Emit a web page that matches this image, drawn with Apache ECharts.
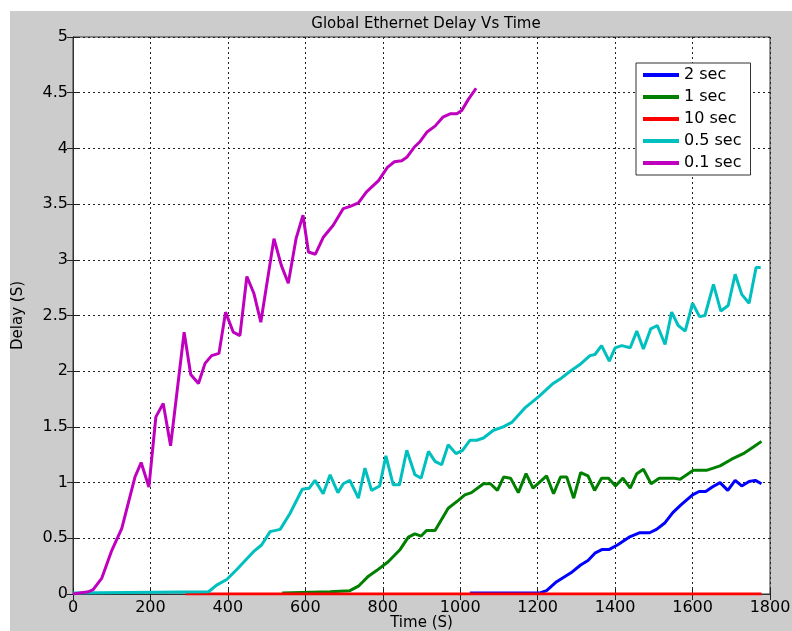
<!DOCTYPE html>
<html>
<head>
<meta charset="utf-8">
<script src="https://cdn.jsdelivr.net/npm/echarts@6/dist/echarts.min.js"></script>
<style>
  html, body { margin: 0; padding: 0; background: #ffffff; }
  #chart { width: 792px; height: 631px; }
</style>
</head>
<body>
<div id="chart"></div>
<script>
// Ethernet delay (s) over simulation time (s) for five sampling periods
const seriesNames = ['2 sec', '1 sec', '10 sec', '0.5 sec', '0.1 sec'];
const seriesColors = ['#0000ff', '#008000', '#ff0000', '#00bfbf', '#bf00bf'];

const time2s = [1025, 1206, 1223, 1249, 1286, 1311, 1330, 1349, 1367, 1385, 1406, 1436, 1464, 1489, 1507, 1529, 1549, 1570, 1600, 1617, 1634, 1651, 1671, 1691, 1710, 1727, 1746, 1762, 1778];
const delay2s = [0.01, 0.01, 0.03, 0.11, 0.19, 0.26, 0.30, 0.37, 0.40, 0.40, 0.44, 0.51, 0.55, 0.55, 0.58, 0.64, 0.73, 0.80, 0.89, 0.92, 0.92, 0.96, 1.00, 0.93, 1.02, 0.97, 1.01, 1.02, 0.99];

const time1s = [540, 664, 715, 737, 763, 784, 814, 845, 866, 883, 899, 913, 935, 969, 995, 1012, 1029, 1060, 1078, 1096, 1112, 1130, 1150, 1170, 1188, 1223, 1241, 1259, 1275, 1293, 1311, 1330, 1347, 1365, 1383, 1401, 1420, 1439, 1456, 1473, 1493, 1514, 1551, 1568, 1585, 1602, 1636, 1671, 1701, 1731, 1757, 1778];
const delay1s = [0.01, 0.02, 0.03, 0.07, 0.16, 0.21, 0.29, 0.40, 0.51, 0.54, 0.52, 0.57, 0.57, 0.77, 0.84, 0.89, 0.91, 0.99, 0.99, 0.93, 1.05, 1.04, 0.91, 1.08, 0.95, 1.06, 0.90, 1.05, 1.05, 0.86, 1.09, 1.06, 0.93, 1.04, 1.04, 0.97, 1.04, 0.95, 1.08, 1.12, 0.99, 1.04, 1.04, 1.03, 1.07, 1.11, 1.11, 1.15, 1.21, 1.26, 1.32, 1.37];

const time10s = [290, 1778];
const delay10s = [0, 0];

const time05s = [0, 350, 371, 397, 423, 466, 487, 509, 535, 560, 592, 610, 625, 646, 664, 684, 698, 715, 737, 754, 771, 792, 808, 827, 843, 862, 883, 899, 918, 935, 952, 969, 989, 1006, 1025, 1043, 1060, 1086, 1111, 1133, 1167, 1202, 1240, 1262, 1284, 1309, 1335, 1348, 1365, 1385, 1400, 1417, 1439, 1456, 1473, 1492, 1509, 1529, 1546, 1563, 1581, 1600, 1618, 1632, 1654, 1673, 1692, 1710, 1727, 1746, 1764, 1776];
const delay05s = [0.01, 0.02, 0.08, 0.13, 0.22, 0.38, 0.44, 0.56, 0.58, 0.72, 0.94, 0.95, 1.02, 0.90, 1.07, 0.91, 0.99, 1.02, 0.86, 1.13, 0.93, 0.97, 1.24, 0.98, 0.98, 1.29, 1.07, 1.04, 1.28, 1.19, 1.16, 1.34, 1.26, 1.29, 1.38, 1.38, 1.40, 1.47, 1.50, 1.54, 1.67, 1.77, 1.89, 1.94, 2.00, 2.06, 2.14, 2.15, 2.23, 2.09, 2.21, 2.23, 2.21, 2.36, 2.20, 2.38, 2.41, 2.24, 2.53, 2.41, 2.36, 2.61, 2.49, 2.50, 2.78, 2.54, 2.59, 2.87, 2.69, 2.61, 2.93, 2.93];

const time01s = [0, 40, 52, 74, 100, 126, 160, 176, 196, 214, 233, 252, 287, 304, 324, 341, 358, 377, 394, 414, 431, 449, 467, 485, 519, 538, 556, 576, 594, 608, 626, 646, 672, 698, 716, 737, 758, 789, 812, 830, 849, 862, 881, 896, 915, 935, 955, 974, 991, 1004, 1021, 1041];
const delay01s = [0, 0.02, 0.04, 0.14, 0.39, 0.59, 1.05, 1.18, 0.96, 1.59, 1.71, 1.33, 2.35, 1.97, 1.89, 2.07, 2.14, 2.16, 2.53, 2.35, 2.32, 2.85, 2.70, 2.44, 3.19, 2.95, 2.79, 3.19, 3.40, 3.07, 3.05, 3.20, 3.31, 3.46, 3.48, 3.51, 3.61, 3.71, 3.83, 3.88, 3.89, 3.92, 4.01, 4.06, 4.15, 4.20, 4.28, 4.31, 4.31, 4.34, 4.44, 4.54];

const xTicks = { min: 0, max: 1800, interval: 200 };
const yTicks = { min: 0, max: 5, interval: 0.5 };

const times = [time2s, time1s, time10s, time05s, time01s];
const delays = [delay2s, delay1s, delay10s, delay05s, delay01s];

function pairs(ts, vs) {
  return ts.map((t, i) => [t, vs[i]]);
}

const FONT = 'DejaVu Sans';
const gridLine = { show: true, lineStyle: { color: '#222', type: [2, 3], width: 1 } };
const tickIn = { show: true, inside: true, length: 6, lineStyle: { color: '#222' } };

const chart = echarts.init(document.getElementById('chart'), null, { renderer: 'canvas' });
chart.setOption({
  animation: false,
  backgroundColor: '#ffffff',
  graphic: [{
    type: 'rect', z: -10, silent: true,
    shape: { x: 10, y: 11, width: 782, height: 620 },
    style: { fill: '#cccccc' }
  }],
  title: {
    text: 'Global Ethernet Delay Vs Time',
    left: 421, top: 12, textAlign: 'center',
    textStyle: { fontFamily: FONT, fontSize: 15, fontWeight: 'normal', color: '#000' }
  },
  grid: {
    left: 73, right: 22, top: 37, bottom: 37,
    outerBoundsMode: 'none', containLabel: false,
    show: true, backgroundColor: '#ffffff', borderColor: '#333', borderWidth: 1
  },
  legend: {
    orient: 'vertical', left: 636, top: 63,
    padding: [3, 9, 3, 7], itemGap: 4,
    itemWidth: 36, itemHeight: 4, icon: 'rect',
    backgroundColor: '#ffffff', borderColor: '#333', borderWidth: 1,
    textStyle: { fontFamily: FONT, fontSize: 16, color: '#000', lineHeight: 18 },
    data: seriesNames
  },
  xAxis: [{
    type: 'value', min: xTicks.min, max: xTicks.max, interval: xTicks.interval,
    name: 'Time (S)', nameLocation: 'middle', nameGap: 22, nameMoveOverlap: false,
    nameTextStyle: { fontFamily: FONT, fontSize: 15, color: '#000' },
    axisLine: { show: true, lineStyle: { color: '#333' } },
    axisTick: tickIn,
    axisLabel: { fontFamily: FONT, fontSize: 16, color: '#000', margin: 6, formatter: v => String(v) },
    splitLine: gridLine
  }, {
    type: 'value', position: 'top', min: xTicks.min, max: xTicks.max, interval: xTicks.interval,
    axisLine: { show: true, lineStyle: { color: '#333' } },
    axisTick: tickIn, axisLabel: { show: false }, splitLine: { show: false }
  }],
  yAxis: [{
    type: 'value', min: yTicks.min, max: yTicks.max, interval: yTicks.interval,
    name: 'Delay (S)', nameLocation: 'middle', nameGap: 47, nameRotate: 90, nameMoveOverlap: false,
    nameTextStyle: { fontFamily: FONT, fontSize: 15, color: '#000' },
    axisLine: { show: true, lineStyle: { color: '#333' } },
    axisTick: tickIn,
    axisLabel: { fontFamily: FONT, fontSize: 16, color: '#000', margin: 5 },
    splitLine: gridLine
  }, {
    type: 'value', position: 'right', min: yTicks.min, max: yTicks.max, interval: yTicks.interval,
    axisLine: { show: true, lineStyle: { color: '#333' } },
    axisTick: tickIn, axisLabel: { show: false }, splitLine: { show: false }
  }],
  series: seriesNames.map((name, i) => ({
    name: name,
    type: 'line',
    xAxisIndex: 0, yAxisIndex: 0,
    data: pairs(times[i], delays[i]),
    showSymbol: false, symbol: 'none',
    color: seriesColors[i],
    lineStyle: { width: 3, color: seriesColors[i] },
    z: 2 + i
  }))
});
</script>
</body>
</html>
